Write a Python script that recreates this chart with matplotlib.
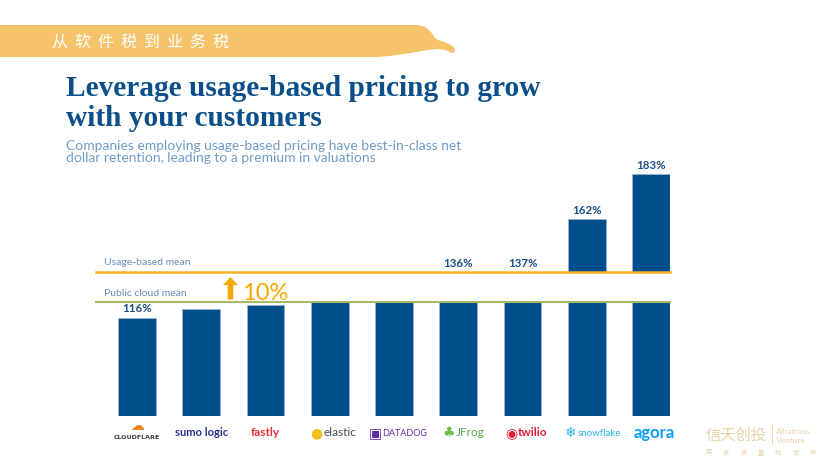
import numpy as np
import matplotlib.pyplot as plt
from matplotlib import patches, transforms

# Dados do gráfico (retenção líquida em dólar, %)
empresas = ['Cloudflare', 'Sumo Logic', 'Fastly', 'Elastic', 'Datadog',
            'JFrog', 'Twilio', 'Snowflake', 'Agora']
ndr = [116, 120, 122, 130, 130, 136, 137, 162, 183]
rotulos = ['116%', '', '', '', '', '136%', '137%', '162%', '183%']
media_nuvem = 123.5   # Public cloud mean
media_uso = 137.3     # Usage-based mean

# Logos das empresas (ícone, cor do ícone, texto, cor do texto)
logo_icone = ['☁', '', '', '●', '▣', '♣', '◉', '❄', '']
logo_icone_cor = ['#f38020', '', '', '#f0bf1a', '#632ca6', '#6abf4b', '#e31e36', '#29b5e8', '']
logo_texto = ['CLOUDFLARE', 'sumo logic', 'fastly', 'elastic', 'DATADOG',
              'JFrog', 'twilio', 'snowflake', 'agora']
logo_cor = ['#404040', '#2b2f8f', '#e8303a', '#4a4a4a', '#632ca6',
            '#5aa546', '#e31e36', '#29b5e8', '#099dfd']

titulo = ['Leverage usage-based pricing to grow', 'with your customers']
subtitulo = ['Companies employing usage-based pricing have best-in-class net',
             'dollar retention, leading to a premium in valuations']
faixa = '从软件税到业务税'

AZUL = '#004f8b'
LARANJA = '#f6b12b'
VERDE = '#a6b86a'

W, H = 831, 468
fig = plt.figure(figsize=(W / 100, H / 100), dpi=100)

# Eixo de fundo em pixels
fundo = fig.add_axes([0, 0, 1, 1])
fundo.set_xlim(0, W)
fundo.set_ylim(H, 0)
fundo.axis('off')

# Faixa amarela do topo
pts = [(0, 25), (418, 25), (425, 27), (431, 32), (435, 38), (438, 40), (441, 41),
       (447, 43), (454, 47), (455, 52), (452, 53), (446, 50), (438, 49),
       (428, 50), (410, 53), (390, 56), (377, 57), (0, 57)]
fundo.add_patch(patches.Polygon(pts, closed=True, facecolor='#f5c36a', edgecolor='none'))
for k, ch in enumerate(faixa):
    fundo.text(59 + k * 23.1, 42, ch, color='white', fontsize=11.5,
               family=['Noto Sans CJK SC', 'DejaVu Sans'], ha='center', va='center')

# Título e subtítulo
for k, linha in enumerate(titulo):
    fundo.text(66, 96 + k * 30.5, linha, family='Liberation Serif', fontweight='bold',
               fontsize=21.2, color='#0b4f8a', ha='left', va='baseline')
for k, linha in enumerate(subtitulo):
    fundo.text(66, 149.5 + k * 12.8, linha, family='Lato', fontsize=10, color='#6f9bc6',
               ha='left', va='baseline')

# Eixos com quebra: parte de baixo e parte de cima
esq, larg = 96 / W, 574 / W
ax_baixo = fig.add_axes([esq, (H - 416) / H, larg, 114.3 / H])
ax_cima = fig.add_axes([esq, (H - 272) / H, larg, 112 / H])
x = np.arange(len(empresas))
escala = 114.3 / (media_nuvem - 70.2)
for ax, lim in [(ax_baixo, (70.2, media_nuvem)), (ax_cima, (media_uso, media_uso + 112 / escala))]:
    ax.bar(x, ndr, width=0.59, color=AZUL, edgecolor='#9dbad6', linewidth=0.4)
    ax.set_ylim(*lim)
    ax.set_xlim(-0.638, 8.296)
    ax.axis('off')
    ax.patch.set_visible(False)

ax_cima.axhline(media_uso, color=LARANJA, lw=1.8, clip_on=False, zorder=5)
ax_baixo.axhline(media_nuvem, color=VERDE, lw=1.5, clip_on=False, zorder=5)
ax_cima.annotate('Usage-based mean', (0, media_uso), xycoords=('axes fraction', 'data'),
                 xytext=(5.5, 3.5), textcoords='offset points', family='Lato', fontsize=7.5,
                 color='#6a8fb8', va='bottom')
ax_baixo.annotate('Public cloud mean', (0, media_nuvem), xycoords=('axes fraction', 'data'),
                  xytext=(5.5, 3), textcoords='offset points', family='Lato', fontsize=7.5,
                  color='#6a8fb8', va='bottom')

# Seta "10%"
fundo.add_patch(patches.FancyArrow(230.5, 299.5, 0, -22.5, width=5.5, head_width=15,
                                   head_length=8, length_includes_head=True,
                                   color='#f5a800', lw=0))
fundo.text(242, 299.5, '10%', family='Lato', fontsize=17, color='#f5a800',
           ha='left', va='baseline')

# Rótulos de valor
for i, (v, r) in enumerate(zip(ndr, rotulos)):
    if not r:
        continue
    if v < media_nuvem:
        ax, y = ax_baixo, v
    else:
        ax, y = ax_cima, max(v, media_uso)
    ax.annotate(r, (i, y), xytext=(0, 2.5), textcoords='offset points', ha='center',
                va='bottom', family='Lato', fontweight='bold', fontsize=8.3, color='#1c4f86')

# Logos abaixo das barras
tr = transforms.blended_transform_factory(ax_baixo.transData, fundo.transData)
desloc = [0, 0, 0, -5, -9, -2, -3.6, -7.3, 2]
tam = [4.5, 8, 8.5, 8.5, 6.5, 8.5, 8.5, 7, 12]
negrito = [True, True, True, False, False, False, True, False, True]
for i in x:
    estilo = dict(fontsize=tam[i], fontweight='bold' if negrito[i] else 'normal',
                  family='Lato')
    if i == 0:
        fundo.text(i, 426, logo_icone[i], transform=tr, ha='center', va='center',
                   fontsize=10, color=logo_icone_cor[i], family='DejaVu Sans')
        fundo.text(i, 437.5, logo_texto[i], transform=tr, ha='center', va='center',
                   fontsize=tam[i], fontweight='bold', color=logo_cor[i], family='DejaVu Sans')
        continue
    if logo_icone[i]:
        fundo.annotate(logo_icone[i], (i, 433), xycoords=tr, xytext=(desloc[i], 0),
                       textcoords='offset points', ha='right', va='center', fontsize=10,
                       color=logo_icone_cor[i], family='DejaVu Sans')
        fundo.annotate(logo_texto[i], (i, 433), xycoords=tr, xytext=(desloc[i] + 0.5, 0),
                       textcoords='offset points', ha='left', va='center',
                       color=logo_cor[i], **estilo)
    else:
        fundo.annotate(logo_texto[i], (i, 433), xycoords=tr, xytext=(desloc[i], 0),
                       textcoords='offset points', ha='center', va='center',
                       color=logo_cor[i], **estilo)

# Marca d'água
BEGE = '#e8d3a6'
fundo.text(736, 435, '信天创投', family=['Noto Sans CJK SC', 'DejaVu Sans'], fontsize=11,
           color=BEGE, ha='center', va='center')
fundo.plot([772, 772], [426, 444], color=BEGE, lw=0.6)
fundo.text(776, 431.5, 'Albatross', family='Lato', fontsize=6, color=BEGE, va='center')
fundo.text(776, 440.5, 'Venture', family='Lato', fontsize=6, color=BEGE, va='center')
for k, ch in enumerate('用投资重构世界'):
    fundo.text(709 + k * 17.3, 453, ch, family=['Noto Sans CJK SC', 'DejaVu Sans'],
               fontsize=4.5, color=BEGE, ha='center', va='center')

fig.savefig('out.png', dpi=100)
